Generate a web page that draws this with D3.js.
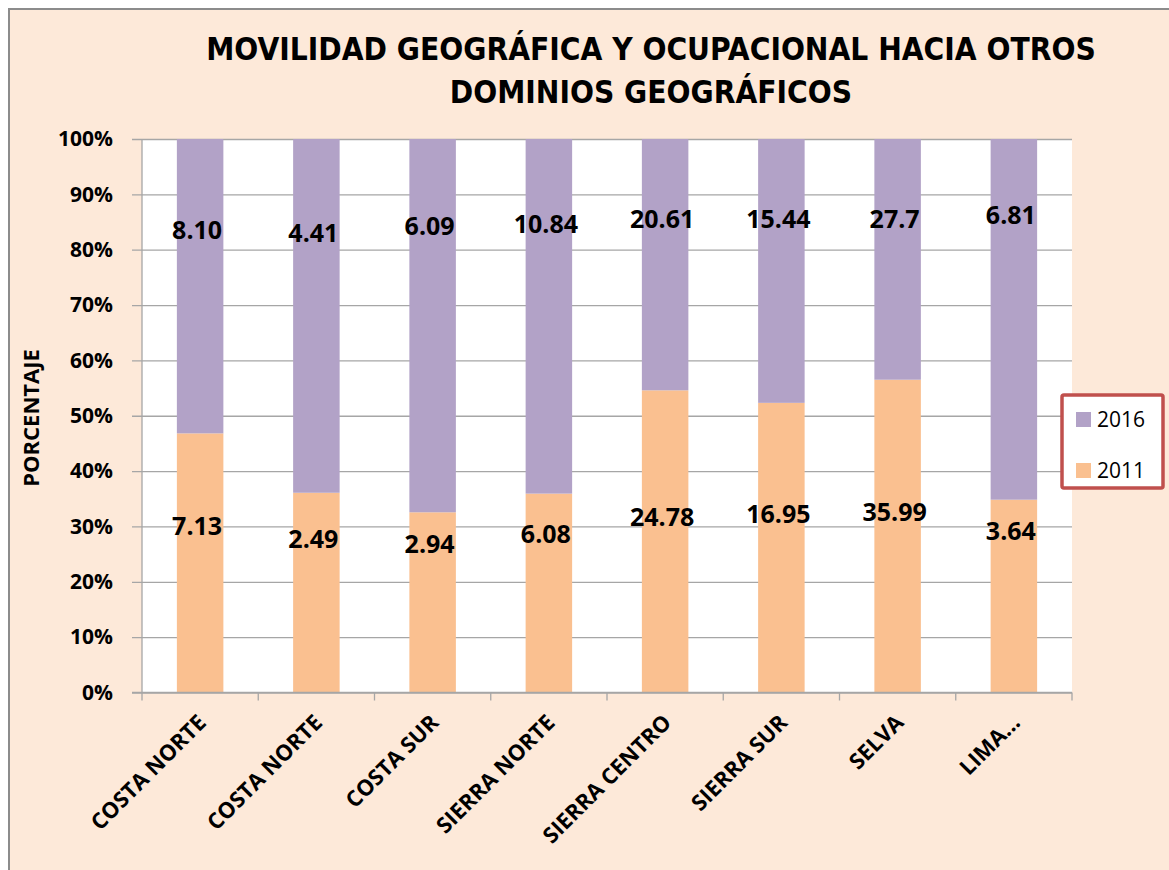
<!DOCTYPE html>
<html>
<head>
<meta charset="utf-8">
<script src="https://cdn.jsdelivr.net/npm/d3@7"></script>
<style>
  html, body { margin: 0; padding: 0; background: #ffffff; }
  svg { display: block; }
</style>
</head>
<body>
<div id="chart"></div>
<script>
// ---- data ----
const regions = ["COSTA NORTE", "COSTA NORTE", "COSTA SUR", "SIERRA NORTE", "SIERRA CENTRO", "SIERRA SUR", "SELVA", "LIMA..."];
const values2011 = [7.13, 2.49, 2.94, 6.08, 24.78, 16.95, 35.99, 3.64];
const values2016 = [8.10, 4.41, 6.09, 10.84, 20.61, 15.44, 27.7, 6.81];
const labels2011 = ["7.13", "2.49", "2.94", "6.08", "24.78", "16.95", "35.99", "3.64"];
const labels2016 = ["8.10", "4.41", "6.09", "10.84", "20.61", "15.44", "27.7", "6.81"];
const yTicks = [0, 10, 20, 30, 40, 50, 60, 70, 80, 90, 100];
const seriesNames = ["2016", "2011"];
// where the data labels sit, in % of the axis (placed by hand in the original)
const labelAt2011 = [30.0, 27.7, 26.8, 28.6, 31.7, 32.2, 32.6, 29.2];
const labelAt2016 = [83.5, 83.0, 84.3, 84.6, 85.6, 85.6, 85.5, 86.2];

const colors = { "2016": "#b2a2c7", "2011": "#fac090" };

class chartMovilidad {
    constructor() {
        this.width = 1169;
        this.height = 870;
        const font = "'Open Sans', 'Noto Sans', sans-serif";
        const narrow = "'Liberation Sans Narrow', 'DejaVu Sans Condensed', 'Open Sans', sans-serif";

        this.svg = d3.select("#chart").append("svg")
            .attr("width", this.width)
            .attr("height", this.height);

        // chart background + border
        this.svg.append("rect")
            .attr("x", 9).attr("y", 9)
            .attr("width", this.width).attr("height", this.height)
            .attr("fill", "#fde9d9")
            .attr("stroke", "#8c8c8c")
            .attr("stroke-width", 2);

        const plot = { left: 142, right: 1072, top: 139, bottom: 692.5 };

        const x = d3.scaleBand()
            .domain(d3.range(regions.length))
            .range([plot.left, plot.right])
            .paddingInner(0.6)
            .paddingOuter(0.3);

        const y = d3.scaleLinear()
            .domain([0, 100])
            .range([plot.bottom, plot.top]);

        // plot area
        this.svg.append("rect")
            .attr("x", plot.left).attr("y", plot.top)
            .attr("width", plot.right - plot.left)
            .attr("height", plot.bottom - plot.top)
            .attr("fill", "#ffffff");

        // y axis with gridlines
        const yAxis = this.svg.append("g")
            .attr("transform", `translate(${plot.left},0)`)
            .call(d3.axisLeft(y)
                .tickValues(yTicks)
                .tickSize(-(plot.right - plot.left))
                .tickPadding(28)
                .tickFormat(d => d + "%"));
        yAxis.select(".domain").remove();
        yAxis.selectAll(".tick line")
            .attr("x1", -10)
            .attr("stroke", "#a6a6a6")
            .attr("stroke-width", 1.3);
        yAxis.selectAll(".tick text")
            .attr("font-family", font)
            .attr("font-size", 21)
            .attr("font-weight", "bold")
            .attr("fill", "#000")
            .attr("x", -29);

        // vertical axis line
        this.svg.append("line")
            .attr("x1", plot.left).attr("x2", plot.left)
            .attr("y1", plot.top).attr("y2", plot.bottom)
            .attr("stroke", "#a6a6a6").attr("stroke-width", 1.3);

        // stacked bars (100%)
        const share2011 = values2011.map((v, i) => v / (v + values2016[i]) * 100);
        const bars = this.svg.append("g");
        bars.selectAll("rect.s2011")
            .data(share2011)
            .join("rect")
            .attr("class", "s2011")
            .attr("x", (d, i) => x(i))
            .attr("width", x.bandwidth())
            .attr("y", d => y(d))
            .attr("height", d => y(0) - y(d))
            .attr("fill", colors["2011"]);
        bars.selectAll("rect.s2016")
            .data(share2011)
            .join("rect")
            .attr("class", "s2016")
            .attr("x", (d, i) => x(i))
            .attr("width", x.bandwidth())
            .attr("y", y(100))
            .attr("height", d => y(d) - y(100))
            .attr("fill", colors["2016"]);

        // x axis
        const xAxis = this.svg.append("g")
            .attr("transform", `translate(0,${plot.bottom})`);
        xAxis.append("line")
            .attr("x1", plot.left - 10).attr("x2", plot.right)
            .attr("stroke", "#a6a6a6").attr("stroke-width", 1.3);
        const step = x.step();
        const bounds = d3.range(regions.length + 1).map(i => plot.left + i * step);
        xAxis.selectAll("line.tk")
            .data(bounds)
            .join("line")
            .attr("class", "tk")
            .attr("x1", d => d).attr("x2", d => d)
            .attr("y1", 0).attr("y2", 8)
            .attr("stroke", "#a6a6a6").attr("stroke-width", 1.3);
        xAxis.selectAll("text")
            .data(regions)
            .join("text")
            .attr("transform", (d, i) => `translate(${x(i) + x.bandwidth() / 2 + 2},${26}) rotate(-45)`)
            .attr("text-anchor", "end")
            .attr("dy", "0.35em")
            .attr("font-family", font)
            .attr("font-size", 22)
            .attr("font-weight", "bold")
            .attr("fill", "#000")
            .text(d => d);

        // data labels
        const labelsG = this.svg.append("g")
            .attr("font-family", font)
            .attr("font-size", 25)
            .attr("font-weight", "bold")
            .attr("fill", "#000")
            .attr("text-anchor", "middle");
        labelsG.selectAll("text.l2016")
            .data(labels2016)
            .join("text")
            .attr("class", "l2016")
            .attr("x", (d, i) => x(i) + x.bandwidth() / 2 - 3)
            .attr("y", (d, i) => y(labelAt2016[i]))
            .attr("dy", "0.36em")
            .text(d => d);
        labelsG.selectAll("text.l2011")
            .data(labels2011)
            .join("text")
            .attr("class", "l2011")
            .attr("x", (d, i) => x(i) + x.bandwidth() / 2 - 3)
            .attr("y", (d, i) => y(labelAt2011[i]))
            .attr("dy", "0.36em")
            .text(d => d);

        // y axis title
        this.svg.append("text")
            .attr("transform", `translate(39,418) rotate(-90)`)
            .attr("text-anchor", "middle")
            .attr("font-family", font)
            .attr("font-size", 22)
            .attr("font-weight", "bold")
            .attr("fill", "#000")
            .text("PORCENTAJE");

        // title: sized so the first line spans about 890px
        const titleLines = ["MOVILIDAD GEOGRÁFICA Y OCUPACIONAL HACIA OTROS", "DOMINIOS GEOGRÁFICOS"];
        const titleG = this.svg.append("g")
            .attr("font-family", narrow)
            .attr("font-weight", "bold")
            .attr("fill", "#000")
            .attr("text-anchor", "middle");
        const titleText = titleG.selectAll("text")
            .data(titleLines)
            .join("text")
            .attr("x", 651)
            .attr("y", (d, i) => 60 + i * 43)
            .attr("font-size", 36)
            .text(d => d);
        const natural = titleText.nodes()[0].getComputedTextLength();
        const fs = Math.min(38, 36 * 890 / natural);
        titleText.attr("font-size", fs);

        // legend
        const legend = this.svg.append("g");
        legend.append("rect")
            .attr("x", 1062).attr("y", 395)
            .attr("width", 101).attr("height", 93)
            .attr("fill", "#ffffff")
            .attr("stroke", "#c0504d")
            .attr("stroke-width", 3.5)
            .attr("rx", 2);
        const items = legend.selectAll("g.item")
            .data(seriesNames)
            .join("g")
            .attr("class", "item")
            .attr("transform", (d, i) => `translate(1076,${412 + i * 51})`);
        items.append("rect")
            .attr("width", 15).attr("height", 15)
            .attr("fill", d => colors[d]);
        items.append("text")
            .attr("x", 21).attr("y", 15)
            .attr("font-family", font)
            .attr("font-size", 21)
            .attr("fill", "#000")
            .text(d => d);
    }
}

function whenDocumentLoaded(action) {
    if (document.readyState === "loading") {
        document.addEventListener("DOMContentLoaded", action);
    } else {
        action();
    }
}
whenDocumentLoaded(() => {
    plot_object = new chartMovilidad();
});
</script>
</body>
</html>
